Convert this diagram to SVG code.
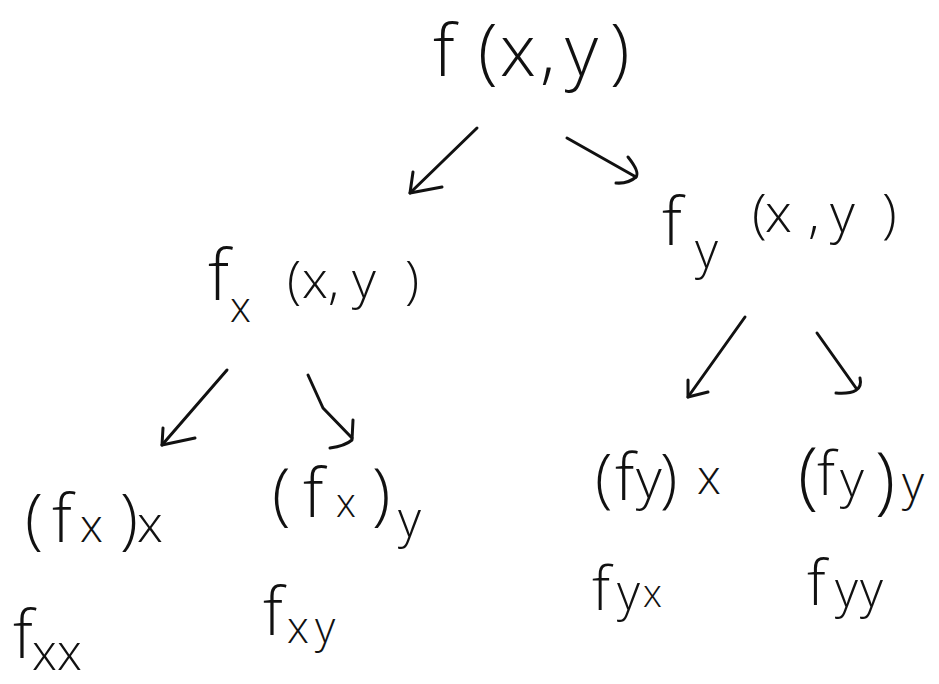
<svg xmlns="http://www.w3.org/2000/svg" width="939" height="684" viewBox="0 0 939 684">
<style>
.t{font-family:"Open Sans","Liberation Sans",sans-serif;font-weight:300;fill:#111;}
.c{fill:none;stroke:#111;stroke-width:3;stroke-linecap:round;stroke-linejoin:round;}
</style>
<rect width="939" height="684" fill="#fff"/>
<g id="connectors">
  <g id="e1"><path class="c" d="M477,128 L410,193"/><path class="c" d="M413,172 L410,193 L442,187"/></g>
  <g id="e2"><path class="c" d="M567,138 L636,177"/><path class="c" d="M628,157 Q640,172 636,177 Q628,184 616,183"/></g>
  <g id="e3"><path class="c" d="M227,370 L162,445"/><path class="c" d="M163,428 L162,445 L195,438"/></g>
  <g id="e4"><path class="c" d="M308,375 L323,408 L352,438"/><path class="c" d="M353,420 L352,440 Q345,446 330,448"/></g>
  <g id="e5"><path class="c" d="M745,317 L688,397"/><path class="c" d="M688,380 L688,397 L708,392"/></g>
  <g id="e6"><path class="c" d="M817,333 L856,388"/><path class="c" d="M860,378 Q864,395 836,393"/></g>
</g>
<g id="n-f"><text class="t" font-size="72" x="433 478 500 540 565 610" y="76">f(x,y)</text></g>
<g id="n-fx"><text class="t"><tspan x="208" y="300" font-size="70">f</tspan><tspan x="230" y="322" font-size="42">x</tspan><tspan x="287 302 328 352 405" y="298" font-size="52">(x,y)</tspan></text></g>
<g id="n-fy"><text class="t"><tspan x="662" y="245" font-size="66">f</tspan><tspan x="695" y="268" font-size="50">y</tspan><tspan x="752 765 808 830 882" y="232" font-size="54">(x,y)</tspan></text></g>
<g id="n-fxx-paren"><text class="t"><tspan x="25 52" y="542" font-size="66">(f</tspan><tspan x="80" y="542" font-size="46">x</tspan><tspan x="120" y="542" font-size="66">)</tspan><tspan x="137" y="542" font-size="52">x</tspan></text></g>
<g id="n-fxy-paren"><text class="t"><tspan x="272 303" y="517" font-size="68">(f</tspan><tspan x="336" y="517" font-size="40">x</tspan><tspan x="372" y="517" font-size="68">)</tspan><tspan x="398" y="537" font-size="50">y</tspan></text></g>
<g id="n-fyx-paren"><text class="t"><tspan x="595 615" y="500" font-size="64">(f</tspan><tspan x="636" y="498" font-size="56">y</tspan><tspan x="660" y="500" font-size="64">)</tspan><tspan x="697" y="494" font-size="48">x</tspan></text></g>
<g id="n-fyy-paren"><text class="t"><tspan x="798" y="500" font-size="74">(</tspan><tspan x="817" y="495" font-size="60">f</tspan><tspan x="840" y="497" font-size="52">y</tspan><tspan x="875" y="505" font-size="74">)</tspan><tspan x="902" y="500" font-size="48">y</tspan></text></g>
<g id="n-fxx"><text class="t"><tspan x="13" y="658" font-size="66">f</tspan><tspan x="32 57" y="670" font-size="50">xx</tspan></text></g>
<g id="n-fxy"><text class="t"><tspan x="263" y="635" font-size="66">f</tspan><tspan x="287 315" y="643" font-size="44">xy</tspan></text></g>
<g id="n-fyx"><text class="t"><tspan x="592" y="610" font-size="60">f</tspan><tspan x="617" y="610" font-size="50">y</tspan><tspan x="643" y="607" font-size="38">x</tspan></text></g>
<g id="n-fyy"><text class="t"><tspan x="807" y="605" font-size="62">f</tspan><tspan x="835 860" y="607" font-size="50">yy</tspan></text></g>
</svg>
